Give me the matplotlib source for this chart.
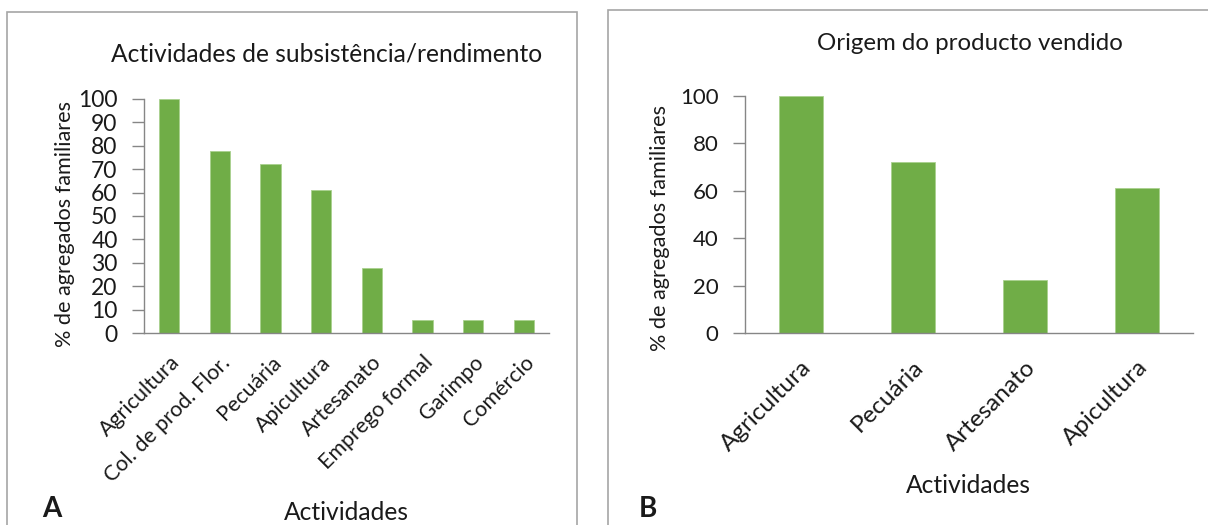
import matplotlib
matplotlib.use("Agg")
import matplotlib.pyplot as plt
from matplotlib.patches import Rectangle
from matplotlib.transforms import ScaledTranslation

plt.rcParams['font.family'] = ['Lato', 'DejaVu Sans']

# painel A
cats_a = ['Agricultura', 'Col. de prod. Flor.', 'Pecuária', 'Apicultura',
          'Artesanato', 'Emprego formal', 'Garimpo', 'Comércio']
vals_a = [100, 77.8, 72.2, 61.1, 27.8, 5.6, 5.6, 5.6]
ticks_a = [0, 10, 20, 30, 40, 50, 60, 70, 80, 90, 100]

# painel B
cats_b = ['Agricultura', 'Pecuária', 'Artesanato', 'Apicultura']
vals_b = [100, 72.2, 22.2, 61.1]
ticks_b = [0, 20, 40, 60, 80, 100]

W, H = 1208, 525
green = '#70ad47'
axgray = '#868686'
txt = '#1a1a1a'

fig = plt.figure(figsize=(W / 100, H / 100), dpi=100)


def px_axes(l, t, r, b):
    return fig.add_axes([l / W, 1 - b / H, (r - l) / W, (b - t) / H])


def ftext(x, y, s, **kw):
    kw.setdefault('color', txt)
    return fig.text(x / W, 1 - y / H, s, **kw)


def style(ax, cats, vals, ticks, tsize, lsize, xpad):
    x = range(len(cats))
    ax.bar(x, vals, width=0.4, color=green, edgecolor='#a9d18e', linewidth=0.6)
    ax.set_xlim(-0.5, len(cats) - 0.5)
    ax.set_ylim(0, 100)
    ax.set_yticks(ticks)
    ax.set_yticklabels([str(t) for t in ticks], fontsize=tsize, color=txt)
    ax.set_xticks(list(x))
    ax.set_xticklabels(cats, rotation=45, ha='right', va='top',
                       rotation_mode='anchor', fontsize=lsize, color=txt)
    shift = ScaledTranslation(5 / 100, 0, fig.dpi_scale_trans)
    for lab in ax.get_xticklabels():
        lab.set_transform(lab.get_transform() + shift)
    for s in ['top', 'right']:
        ax.spines[s].set_visible(False)
    for s in ['left', 'bottom']:
        ax.spines[s].set_color(axgray)
        ax.spines[s].set_linewidth(1.0)
    ax.tick_params(axis='y', length=9, width=1, color=axgray, pad=10)
    ax.tick_params(axis='x', length=0, pad=xpad)
    ax.patch.set_alpha(0)


# bordas dos paineis
fig.patches.append(Rectangle((7 / W, -0.01), 570 / W, 1.01 - 12 / H, transform=fig.transFigure,
                             fill=False, edgecolor='#a6a6a6', linewidth=1.2))
fig.patches.append(Rectangle((608 / W, -0.01), 700 / W, 1.01 - 10 / H, transform=fig.transFigure,
                             fill=False, edgecolor='#a6a6a6', linewidth=1.2))

ax1 = px_axes(144, 99, 549, 333)
style(ax1, cats_a, vals_a, ticks_a, 16.5, 15.5, 14)
ftext(65, 224, '% de agregados familiares', rotation=90, ha='center', va='center', fontsize=15.6)
ftext(327, 62, 'Actividades de subsistência/rendimento', ha='center', va='baseline', fontsize=17.7)
ftext(346, 520, 'Actividades', ha='center', va='baseline', fontsize=17.7)
ftext(52, 517, 'A', ha='center', va='baseline', fontsize=20, fontweight='bold')

ax2 = px_axes(745, 96, 1193, 333)
style(ax2, cats_b, vals_b, ticks_b, 16, 17.5, 17)
ftext(660, 228, '% de agregados familiares', rotation=90, ha='center', va='center', fontsize=15.6)
ftext(970, 50, 'Origem do producto vendido', ha='center', va='baseline', fontsize=17.3)
ftext(968, 493, 'Actividades', ha='center', va='baseline', fontsize=17.7)
ftext(648, 517, 'B', ha='center', va='baseline', fontsize=20, fontweight='bold')

fig.savefig('out.png', dpi=100)
